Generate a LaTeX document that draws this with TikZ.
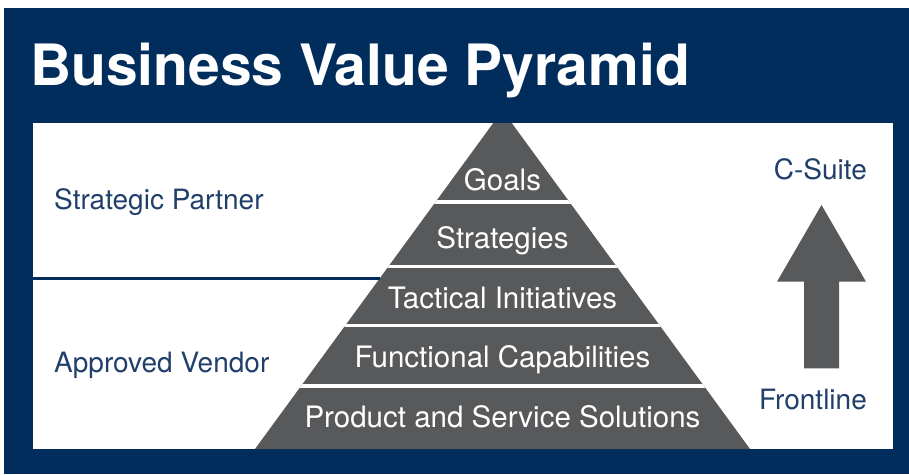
\documentclass[tikz,border=0pt]{standalone}
\usepackage{fontspec}
\setmainfont{TeX Gyre Heros}
\definecolor{navy}{HTML}{002D5B}
\definecolor{ink}{HTML}{213F6B}
\definecolor{slate}{HTML}{58595B}

\begin{document}
\begin{tikzpicture}[x=1pt, y=-1pt]

    \useasboundingbox (0,0) rectangle (909,474);
    \tikzset{lbl/.style={font=\fontsize{28}{30}\selectfont, inner sep=0pt, text=ink},
             tier/.style={font=\fontsize{29.5}{31}\selectfont, inner sep=0pt, text=white, anchor=base},
             sep/.style={white, line width=3.5pt}}

    % Frame + white panel
    \fill[navy] (4,8) rectangle (909,474);
    \fill[white] (33,123) rectangle (893,449);

    \node[anchor=base west, inner sep=0pt, text=white, font=\fontsize{57}{60}\selectfont\bfseries] (title) at (30,85) {Business Value Pyramid};

    % Pyramid
    \coordinate (apex)  at (502.5,110.4);
    \coordinate (baseL) at (255,449);
    \coordinate (baseR) at (750,449);
    \begin{scope}
        \clip (33,123) rectangle (893,449);
        \fill[slate] (apex) -- (baseR) -- (baseL) -- cycle;
        \clip (apex) -- (baseR) -- (baseL) -- cycle;
        \foreach \y in {202,266.5,325.7,386}
            \draw[sep] (240,\y) -- (765,\y);
    \end{scope}

    \node[tier] (goals)      at (502.5,190) {Goals};
    \node[tier] (strategies) at (502.5,248) {Strategies};
    \node[tier] (tactical)   at (502.5,308) {Tactical Initiatives};
    \node[tier] (functional) at (502.5,367) {Functional Capabilities};
    \node[tier] (product)    at (502.5,427) {Product and Service Solutions};

    % Partner / vendor split
    \coordinate (divL) at (33,278.3);
    \coordinate (divR) at (380,278.3);
    \draw[navy, line width=3.5pt] (divL) -- (divR);

    \node[lbl, anchor=base west] (partner) at (54,209) {Strategic Partner};
    \node[lbl, anchor=base west] (vendor)  at (54,372) {Approved Vendor};

    % Upward arrow
    \node[lbl, anchor=base east] (csuite)    at (867,179) {C-Suite};
    \node[lbl, anchor=base east] (frontline) at (867,409) {Frontline};
    \fill[slate] (821.5,205) -- (866,281.7) -- (839,281.7) -- (839,368.3)
        -- (804,368.3) -- (804,281.7) -- (777,281.7) -- cycle;

\end{tikzpicture}
\end{document}
